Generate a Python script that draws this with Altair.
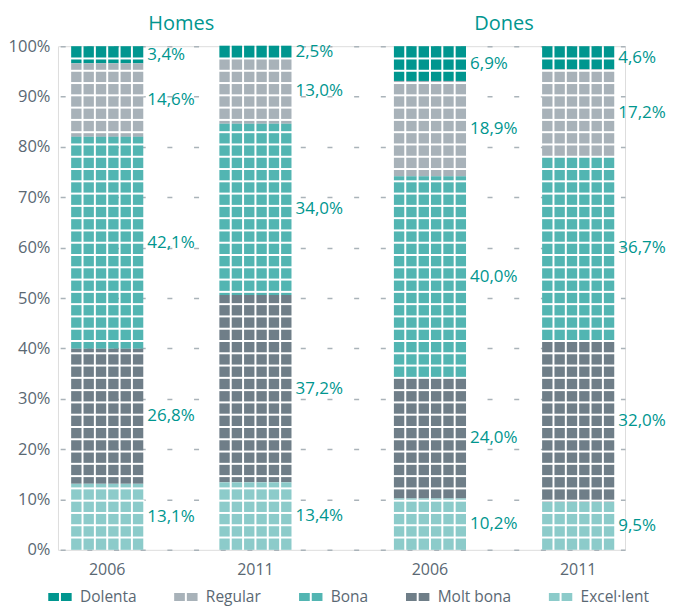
import altair as alt
import pandas as pd

FONT = "Open Sans"
TEAL = "#00968f"
GREY = "#5a6873"
GRID = "#aab3b9"

groups = ["Homes", "Homes", "Dones", "Dones"]
years = ["2006", "2011", "2006", "2011"]
group_names = ["Homes", "Dones"]
categories = ["Dolenta", "Regular", "Bona", "Molt bona", "Excel·lent"]
dolenta = [3.4, 2.5, 6.9, 4.6]
regular = [14.6, 13.0, 18.9, 17.2]
bona = [42.1, 34.0, 40.0, 36.7]
molt_bona = [26.8, 37.2, 24.0, 32.0]
excellent = [13.1, 13.4, 10.2, 9.5]
colors = ["#00968f", "#a8b2b9", "#52b5b2", "#6f7e88", "#8ccbca"]
y_ticks = [0, 10, 20, 30, 40, 50, 60, 70, 80, 90, 100]

series = {"Dolenta": dolenta, "Regular": regular, "Bona": bona,
          "Molt bona": molt_bona, "Excel·lent": excellent}
stack_order = {"Excel·lent": 0, "Molt bona": 1, "Bona": 2, "Regular": 3, "Dolenta": 4}

# each group band is split into 18 slots: 6 tile columns per year bar, 6 empty slots between the bars
prefix = {"2006": "a", "2011": "b"}
slots = [f"a{i}" for i in range(6)] + [f"s{i}" for i in range(6)] + [f"b{i}" for i in range(6)]

rows = []
for i, (g, yr) in enumerate(zip(groups, years)):
    for c in categories:
        v = series[c][i]
        rows.append(dict(group=g, year=yr, cat=c, value=v, order=stack_order[c],
                         slot_last=prefix[yr] + "5",
                         label=f"{v:.1f}".replace(".", ",") + "%"))
df = pd.DataFrame(rows)
df_cells = df.merge(pd.DataFrame({"col": list(range(6))}), how="cross")
df_cells["slot"] = df_cells["year"].map(prefix) + df_cells["col"].astype(str)

df_years = pd.DataFrame({"group": groups, "year": years,
                         "slot": [prefix[y] + "2" for y in years]})

# decorative white row lines of the tile pattern (41 rows over the full bar)
N_ROWS = 41
row_lines = pd.DataFrame(
    [(g, prefix[yr] + str(c), k * 100 / N_ROWS)
     for g, yr in zip(groups, years) for c in range(6) for k in range(1, N_ROWS)],
    columns=["group", "slot", "pos"])

SLOT_STEP = 12.36
SYMBOL = "M-1,-0.34H-0.085V0.34H-1Z M0.085,-0.34H1V0.34H0.085Z"

legend = alt.Legend(title=None, orient="none", legendX=-10, legendY=539, direction="horizontal",
                    symbolType=SYMBOL, symbolSize=548, symbolStrokeWidth=0, symbolOpacity=1,
                    labelFontSize=15.5, labelColor=GREY, labelFont=FONT, columnPadding=37,
                    labelOffset=8, values=categories)

xscale = alt.Scale(domain=group_names, paddingInner=0.3173, paddingOuter=0.03715, align=0.55)
xaxis = alt.Axis(title=None, orient="top", labelAngle=0, labelFontSize=20, labelColor=TEAL,
                 labelFont=FONT, labelBaseline="alphabetic", labelPadding=17,
                 ticks=False, domain=False, grid=False)
oscale = alt.Scale(domain=slots, paddingInner=0.16, paddingOuter=0)
yscale = alt.Scale(domain=[0, 100], nice=False)
yaxis = alt.Axis(title=None, values=y_ticks, labelExpr="datum.value + '%'",
                 ticks=False, domain=False, grid=True, gridDash=[5, 21.7], gridDashOffset=24.5,
                 gridColor=GRID, gridWidth=1.5,
                 labelPadding=8, labelFontSize=16.5, labelColor=GREY, labelFont=FONT)

x_enc = alt.X("group:N", scale=xscale, axis=xaxis)

bars = alt.Chart(df_cells).transform_stack(
    stack="value", groupby=["group", "slot"], as_=["y0", "y1"],
    sort=[alt.SortField(field="order", order="ascending")]
).mark_bar(strokeWidth=0).encode(
    x=x_enc,
    xOffset=alt.XOffset("slot:N", scale=oscale),
    y=alt.Y("y0:Q", scale=yscale, axis=yaxis),
    y2="y1:Q",
    color=alt.Color("cat:N", scale=alt.Scale(domain=categories, range=colors), legend=legend),
)

ticks = alt.Chart(row_lines).mark_tick(color="white", thickness=2, size=SLOT_STEP + 0.5, opacity=1).encode(
    x=x_enc,
    xOffset=alt.XOffset("slot:N", scale=oscale),
    y=alt.Y("pos:Q", scale=yscale, axis=yaxis),
)

text = alt.Chart(df).transform_stack(
    stack="value", groupby=["group", "year"], as_=["y0", "y1"],
    sort=[alt.SortField(field="order", order="ascending")]
).transform_calculate(mid="(datum.y0 + datum.y1) / 2").mark_text(
    align="left", baseline="middle", dx=9.2, fontSize=17, color=TEAL, font=FONT
).encode(
    x=x_enc,
    xOffset=alt.XOffset("slot_last:N", scale=oscale),
    y=alt.Y("mid:Q", scale=yscale, axis=yaxis),
    text="label:N",
)

year_text = alt.Chart(df_years).mark_text(
    align="center", baseline="middle", dx=SLOT_STEP / 2, dy=20, fontSize=16, color=GREY, font=FONT
).encode(
    x=x_enc,
    xOffset=alt.XOffset("slot:N", scale=oscale),
    y=alt.Y(datum=0, scale=yscale, axis=yaxis),
    text="year:N",
)

chart = alt.layer(bars, ticks, text, year_text).properties(
    width=567.5, height=504,
    padding={"left": 0, "top": 5, "right": 0, "bottom": 0},
).configure_view(stroke=None, strokeWidth=0).configure(font=FONT)

chart.save("out.html", embed_options={"renderer": "svg", "actions": False})
